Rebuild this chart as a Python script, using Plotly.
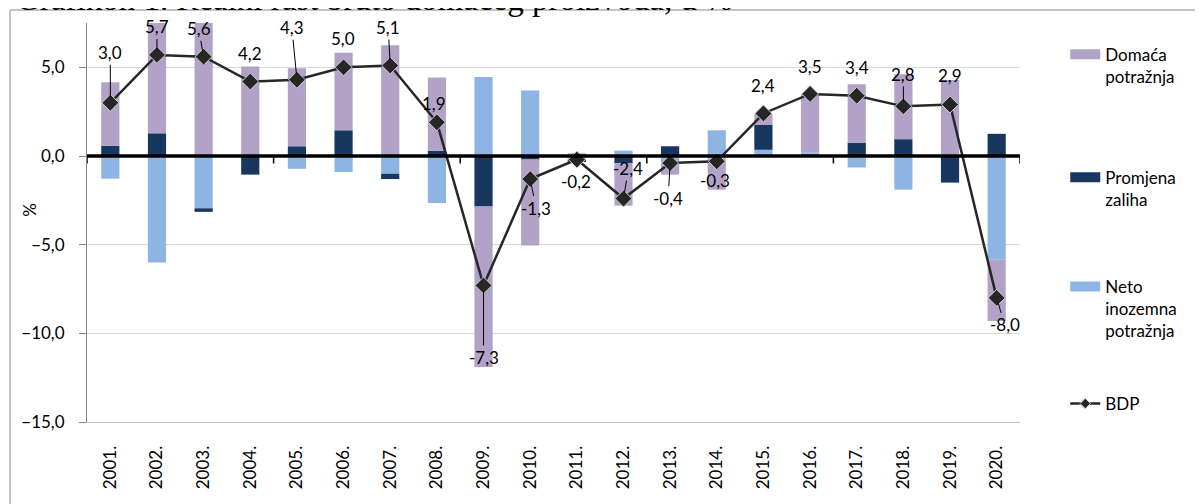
import plotly.graph_objects as go

# ---- data ----
years = ["2001.", "2002.", "2003.", "2004.", "2005.", "2006.", "2007.", "2008.", "2009.", "2010.",
         "2011.", "2012.", "2013.", "2014.", "2015.", "2016.", "2017.", "2018.", "2019.", "2020."]
domaca = [3.58, 6.3, 7.6, 4.95, 4.4, 4.37, 6.25, 4.13, -9.05, -4.85,
          0.15, -2.4, -0.7, -1.9, 0.62, 3.3, 3.3, 3.66, 4.19, -3.45]
promjena = [0.58, 1.28, -0.2, -1.05, 0.55, 1.45, -0.3, 0.3, -2.85, -0.2,
            -0.05, -0.4, 0.55, 0.0, 1.4, 0.0, 0.75, 0.95, -1.5, 1.25]
neto = [-1.28, -6.0, -2.95, 0.1, -0.72, -0.9, -1.0, -2.65, 4.45, 3.7,
        -0.25, 0.3, -0.35, 1.45, 0.35, 0.2, -0.65, -1.9, 0.1, -5.85]
bdp = [3.0, 5.7, 5.6, 4.2, 4.3, 5.0, 5.1, 1.9, -7.3, -1.3,
       -0.2, -2.4, -0.4, -0.3, 2.4, 3.5, 3.4, 2.8, 2.9, -8.0]

name_dom = "Domaća<br>potražnja"
name_zal = "Promjena<br>zaliha"
name_net = "Neto<br>inozemna<br>potražnja"
name_bdp = "BDP"
title_text = "Grafikon 1. Realni rast bruto domaćeg proizvoda, u %"

# ---- label placement (pixel offsets of data labels, leader line flag) ----
lab_dx = [0, 0, -5, 0, -5, -1, -2, -3, 0, 6, -1, 5, -2, -2, 0, 0, 0, 0, 0, 8]
lab_dy = [-50, -28, -28, -28, -52, -29, -38, -19, 72, 29, 22, -30, 35, 19, -28, -27, -28, -32, -29, 27]
lab_lead = [1, 1, 1, 0, 1, 0, 1, 0, 1, 1, 0, 1, 1, 0, 0, 0, 0, 1, 0, 1]

C_DOM = "#B3A2C7"
C_ZAL = "#17375E"
C_NET = "#8EB4E3"
C_BDP = "#262626"
FONT = "Lato"
FS = 17

fig = go.Figure()
# stacking order as in the reference: net exports, inventories, domestic demand
fig.add_bar(x=years, y=neto, marker=dict(color=C_NET, line=dict(width=0)), name="Neto inozemna potražnja", showlegend=False)
fig.add_bar(x=years, y=promjena, marker=dict(color=C_ZAL, line=dict(width=0)), name="Promjena zaliha", showlegend=False)
fig.add_bar(x=years, y=domaca, marker=dict(color=C_DOM, line=dict(width=0)), name="Domaća potražnja", showlegend=False)
fig.add_scatter(x=years, y=bdp, mode="lines+markers", name=name_bdp, showlegend=False,
                line=dict(color=C_BDP, width=2.5),
                marker=dict(symbol="diamond", size=13, color=C_BDP, line=dict(color="#D0D0D0", width=1)))

# legend entries (wide swatches and small diamond as in the reference)
fig.add_scatter(x=[None], y=[None], mode="lines", name=name_dom, legend="legend",
                line=dict(color=C_DOM, width=10))
fig.add_scatter(x=[None], y=[None], mode="lines", name=name_zal, legend="legend2",
                line=dict(color=C_ZAL, width=10))
fig.add_scatter(x=[None], y=[None], mode="lines", name=name_net, legend="legend3",
                line=dict(color=C_NET, width=10))
fig.add_scatter(x=[None], y=[None], mode="lines+markers", name=name_bdp, legend="legend4",
                line=dict(color=C_BDP, width=2.5),
                marker=dict(symbol="diamond", size=8, color=C_BDP, line=dict(color="#D0D0D0", width=1)))

# data labels (x given as category serial number)
for i, v in enumerate(bdp):
    txt = f"{v:.1f}".replace(".", ",")
    if lab_lead[i]:
        fig.add_annotation(x=i, y=v, text=txt, showarrow=True, arrowhead=0, arrowwidth=1,
                           arrowcolor="black", ax=lab_dx[i], ay=lab_dy[i], standoff=6,
                           font=dict(family=FONT, size=FS, color="black"))
    else:
        fig.add_annotation(x=i, y=v, text=txt, showarrow=False, xshift=lab_dx[i], yshift=-lab_dy[i],
                           font=dict(family=FONT, size=FS, color="black"))

# title (cut off at the top of the picture) and y-axis unit
fig.add_annotation(xref="paper", yref="paper", x=-0.0782, y=1.0605, xanchor="left", yanchor="middle",
                   text=title_text, showarrow=False,
                   font=dict(family="Liberation Serif", size=33, color="black"))
fig.add_annotation(xref="paper", yref="paper", x=-0.0747, y=0.5317, text="%", textangle=-90,
                   showarrow=False, font=dict(family=FONT, size=FS, color="black"))

# zero line with category tick marks every 4 categories
fig.add_shape(type="line", xref="paper", yref="y", x0=0, x1=1, y0=0, y1=0,
              line=dict(color="black", width=3.5), layer="above")
for k in range(0, len(years) + 1, 4):
    fig.add_shape(type="line", xref="x", yref="y", x0=k - 0.5, x1=k - 0.5, y0=0, y1=-0.42,
                  line=dict(color="black", width=1.5), layer="above")

# outer chart frame
fig.add_shape(type="rect", xref="paper", yref="paper", x0=-0.0825, x1=1.21, y0=1.0326, y1=-0.25,
              line=dict(color="#898989", width=1), fillcolor="rgba(0,0,0,0)", layer="below")

leg_common = dict(xanchor="left", yanchor="top", x=1.0485, bgcolor="rgba(0,0,0,0)",
                  font=dict(family=FONT, size=FS, color="black"), valign="top", itemwidth=30,
                  borderwidth=0)

fig.update_layout(
    width=1195, height=496,
    margin=dict(l=79, r=183, t=15, b=82),
    paper_bgcolor="white", plot_bgcolor="white",
    barmode="relative", bargap=0.61,
    separators=",.",
    font=dict(family=FONT, size=FS, color="black"),
    legend=dict(y=0.9655, **leg_common),
    legend2=dict(y=0.6571, **leg_common),
    legend3=dict(y=0.3837, **leg_common),
    legend4=dict(y=0.0903, **leg_common),
    xaxis=dict(type="category", showline=True, linecolor="#BFBFBF", linewidth=1, tickangle=-90,
               ticks="outside", ticklen=16, tickcolor="rgba(0,0,0,0)",
               tickfont=dict(family=FONT, size=FS, color="black"), showgrid=False,
               range=[-0.5, len(years) - 0.5]),
    yaxis=dict(range=[-15, 7.5], tickvals=[-15, -10, -5, 0, 5], tickformat=".1f",
               showgrid=True, gridcolor="#D9D9D9", gridwidth=1, zeroline=False,
               showline=True, linecolor="#868686", linewidth=1,
               ticks="outside", ticklen=7, tickcolor="#868686", ticklabelstandoff=11,
               tickfont=dict(family=FONT, size=FS, color="black")),
)

fig.write_html("out.html")
